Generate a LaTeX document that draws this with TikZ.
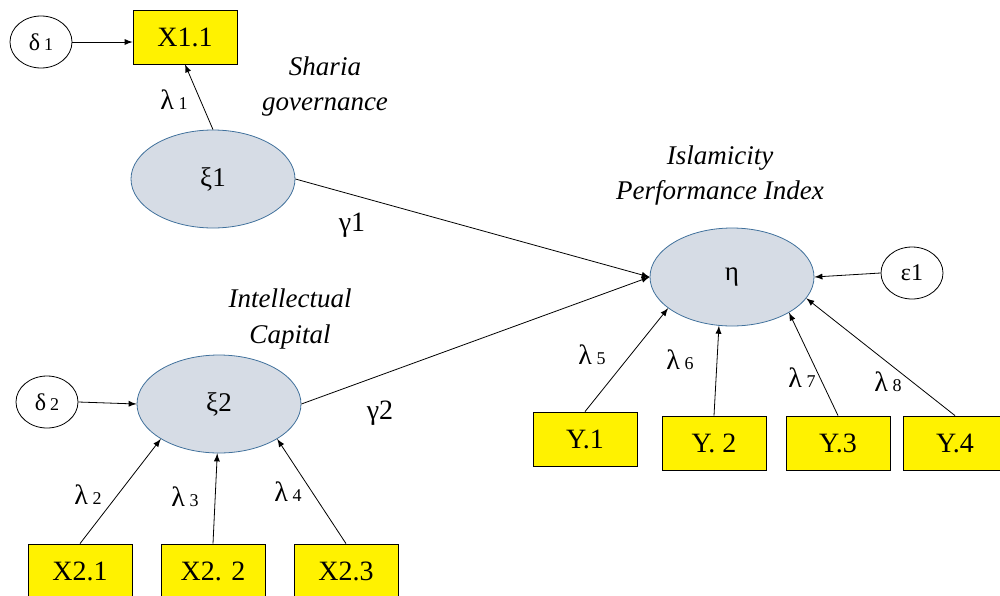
\documentclass[tikz,border=0pt]{standalone}
\usepackage{fontspec}
\setmainfont{Liberation Serif}
\usetikzlibrary{shapes.geometric}
\definecolor{latfill}{HTML}{D6DCE5}
\definecolor{latline}{HTML}{41719C}
\begin{document}
\begin{tikzpicture}[x=0.5pt,y=-0.5pt,
  latent/.style={draw=latline, fill=latfill, ellipse, minimum width=82pt, minimum height=49pt, inner sep=0pt, font=\fontsize{13.5}{15}\selectfont},
  manifest/.style={draw, fill=yellow, rectangle, minimum width=52pt, minimum height=27pt, inner sep=0pt, font=\fontsize{14}{16}\selectfont},
  errnode/.style={draw, ellipse, minimum width=31pt, minimum height=26pt, inner sep=0pt, font=\fontsize{12}{13}\selectfont},
  cname/.style={align=center, font=\fontsize{13.5}{17.5}\selectfont\itshape},
  coef/.style={font=\fontsize{14}{16}\selectfont},
  >=latex]
\useasboundingbox (0,0) rectangle (1000,595);
\node[manifest] (x11) at (185,37) {X1.1};
\node[errnode] (d1) at (41,42) {δ\,{\small 1}};
\node[latent] (xi1) at (213,179) {ξ1};
\node[cname] (sg) at (325,87) {Sharia\\governance};
\node[latent] (eta) at (732,277) {η};
\node[cname] (ipi) at (720,176) {Islamicity\\Performance Index};
\node[errnode] (e1) at (912,273) {ε1};
\node[latent] (xi2) at (219,404) {ξ2};
\node[cname] (ic) at (290,319) {Intellectual\\Capital};
\node[errnode] (d2) at (47,402) {δ\,{\small 2}};
\node[manifest] (x21) at (80,571) {X2.1};
\node[manifest] (x22) at (213,571) {X2. 2};
\node[manifest] (x23) at (346,571) {X2.3};
\node[manifest] (y1) at (585,439) {Y.1};
\node[manifest] (y2) at (714,443) {Y. 2};
\node[manifest] (y3) at (838,443) {Y.3};
\node[manifest] (y4) at (955,443) {Y.4};
\draw[->] (d1) -- (d1 -| x11.west);
\draw[->] (xi1.north) -- (x11.south);
\draw[->] (xi1.east) -- (eta.west);
\draw[->] (xi2.east) -- (eta.west);
\draw[->] (e1.west) -- (eta.east);
\draw[->] (d2.east) -- (xi2.west);
\draw[->] (x21.north) -- (xi2.211);
\draw[->] (x22.north) -- (xi2.268);
\draw[->] (x23.north) -- (xi2.329);
\draw[->] (y1.north) -- (eta.206);
\draw[->] (y2.north) -- (eta.255);
\draw[->] (y3.north) -- (eta.328);
\draw[->] (y4.north) -- (eta.344);
% loadings and paths
\node[coef] (l1) at (174,100) {λ\,{\small 1}};
\node[coef] (g1) at (352,225) {γ1};
\node[coef] (g2) at (380,413) {γ2};
\node[coef] (l2) at (88,495) {λ\,{\small 2}};
\node[coef] (l3) at (185,497) {λ\,{\small 3}};
\node[coef] (l4) at (288,492) {λ\,{\small 4}};
\node[coef] (l5) at (592,355) {λ\,{\small 5}};
\node[coef] (l6) at (680,360) {λ\,{\small 6}};
\node[coef] (l7) at (802,378) {λ\,{\small 7}};
\node[coef] (l8) at (888,382) {λ\,{\small 8}};
\end{tikzpicture}
\end{document}
